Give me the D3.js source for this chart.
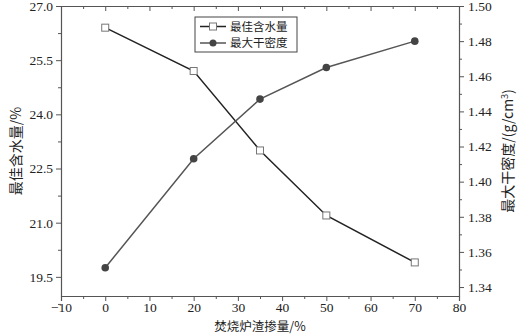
<!DOCTYPE html>
<html>
<head>
<meta charset="utf-8">
<script src="https://cdn.jsdelivr.net/npm/d3@7"></script>
<style>
  body { margin: 0; background: #fff; }
  text { font-family: "Liberation Serif", "DejaVu Serif", serif; }
  .cjk { font-family: "Noto Sans CJK SC", sans-serif; }
</style>
</head>
<body>
<script>
var width = 520;
var height = 335;

var dosage = [0, 20, 35, 50, 70];
var moisture = [26.4, 25.2, 23.0, 21.2, 19.9];
var density = [1.351, 1.413, 1.447, 1.465, 1.480];
var xTicks = [-10, 0, 10, 20, 30, 40, 50, 60, 70, 80];
var leftTicks = [19.5, 21.0, 22.5, 24.0, 25.5, 27.0];
var rightTicks = [1.34, 1.36, 1.38, 1.40, 1.42, 1.44, 1.46, 1.48, 1.50];
var seriesNames = ["最佳含水量", "最大干密度"];

var plotL = 61, plotR = 459, plotT = 6, plotB = 296;
var axisColor = "#555";

var svg = d3.select("body").append("svg")
  .attr("width", width)
  .attr("height", height);

var x = d3.scaleLinear().domain([-10, 80]).range([plotL, plotR]);
var yL = d3.scaleLinear().domain([18.97, 27]).range([plotB, plotT]);
var yR = d3.scaleLinear().domain([1.3349, 1.50]).range([plotB, plotT]);

function styleAxis(g) {
  g.selectAll("path.domain").attr("stroke", axisColor).attr("stroke-width", 1.2);
  g.selectAll("line").attr("stroke", axisColor).attr("stroke-width", 1);
  g.selectAll("text").attr("fill", "#222").style("font-size", "13.5px");
}

// minor ticks
var xMinor = d3.range(-5, 80, 10);
var lMinor = leftTicks.map(function (d) { return d - 0.75; });
var rMinor = d3.range(1.35, 1.50, 0.02);

// bottom axis
svg.append("g")
  .attr("transform", "translate(0," + plotB + ")")
  .call(d3.axisBottom(x).tickValues(xTicks).tickSize(5).tickPadding(1)
    .tickFormat(function (d) { return d < 0 ? "\u2212" + Math.abs(d) : d; }))
  .call(styleAxis);
svg.append("g")
  .attr("transform", "translate(0," + plotB + ")")
  .call(d3.axisBottom(x).tickValues(xMinor).tickSize(3).tickFormat(""))
  .call(styleAxis)
  .select("path.domain").remove();

// top axis (ticks inward)
svg.append("g")
  .attr("transform", "translate(0," + plotT + ")")
  .call(d3.axisBottom(x).tickValues(xTicks).tickSize(5).tickFormat("").tickSizeOuter(0))
  .call(styleAxis);
svg.append("g")
  .attr("transform", "translate(0," + plotT + ")")
  .call(d3.axisBottom(x).tickValues(xMinor).tickSize(3).tickFormat(""))
  .call(styleAxis)
  .select("path.domain").remove();

// left axis
svg.append("g")
  .attr("transform", "translate(" + plotL + ",0)")
  .call(d3.axisLeft(yL).tickValues(leftTicks).tickSize(5).tickPadding(3)
    .tickFormat(d3.format(".1f")).tickSizeOuter(0))
  .call(styleAxis);
svg.append("g")
  .attr("transform", "translate(" + plotL + ",0)")
  .call(d3.axisLeft(yL).tickValues(lMinor).tickSize(3).tickFormat(""))
  .call(styleAxis)
  .select("path.domain").remove();

// right axis
svg.append("g")
  .attr("transform", "translate(" + plotR + ",0)")
  .call(d3.axisRight(yR).tickValues(rightTicks).tickSize(5).tickPadding(4)
    .tickFormat(d3.format(".2f")).tickSizeOuter(0))
  .call(styleAxis);
svg.append("g")
  .attr("transform", "translate(" + plotR + ",0)")
  .call(d3.axisRight(yR).tickValues(rMinor).tickSize(3).tickFormat(""))
  .call(styleAxis)
  .select("path.domain").remove();

// moisture series
var mData = dosage.map(function (d, i) { return [d, moisture[i]]; });
svg.append("path")
  .datum(mData)
  .attr("fill", "none")
  .attr("stroke", "#222")
  .attr("stroke-width", 1.5)
  .attr("d", d3.line().x(function (d) { return x(d[0]); }).y(function (d) { return yL(d[1]); }));
svg.selectAll("rect.msq")
  .data(mData)
  .enter()
  .append("rect")
  .classed("msq", true)
  .attr("x", function (d) { return x(d[0]) - 3.5; })
  .attr("y", function (d) { return yL(d[1]) - 3.5; })
  .attr("width", 7)
  .attr("height", 7)
  .attr("fill", "#fff")
  .attr("stroke", "#777")
  .attr("stroke-width", 1);

// density series
var dData = dosage.map(function (d, i) { return [d, density[i]]; });
svg.append("path")
  .datum(dData)
  .attr("fill", "none")
  .attr("stroke", "#555")
  .attr("stroke-width", 1.5)
  .attr("d", d3.line().x(function (d) { return x(d[0]); }).y(function (d) { return yR(d[1]); }));
svg.selectAll("circle.dpt")
  .data(dData)
  .enter()
  .append("circle")
  .classed("dpt", true)
  .attr("cx", function (d) { return x(d[0]); })
  .attr("cy", function (d) { return yR(d[1]); })
  .attr("r", 3.8)
  .attr("fill", "#444");

// legend
var lg = svg.append("g").attr("transform", "translate(195,17)");
lg.append("rect")
  .attr("width", 102)
  .attr("height", 35)
  .attr("fill", "#fff")
  .attr("stroke", "#444")
  .attr("stroke-width", 1);
seriesNames.forEach(function (name, i) {
  var yy = 9.5 + i * 16.5;
  lg.append("line")
    .attr("x1", 5).attr("x2", 31).attr("y1", yy).attr("y2", yy)
    .attr("stroke", i == 0 ? "#222" : "#555").attr("stroke-width", 1.5);
  if (i == 0) {
    lg.append("rect").attr("x", 14.5).attr("y", yy - 3.5).attr("width", 7).attr("height", 7)
      .attr("fill", "#fff").attr("stroke", "#777");
  } else {
    lg.append("circle").attr("cx", 18).attr("cy", yy).attr("r", 3.5).attr("fill", "#444");
  }
  lg.append("text")
    .attr("class", "cjk")
    .attr("x", 35).attr("y", yy + 4.2)
    .style("font-size", "11.5px")
    .attr("fill", "#222")
    .text(name);
});

// axis titles
svg.append("text")
  .attr("class", "cjk")
  .attr("transform", "translate(21,151) rotate(-90)")
  .attr("text-anchor", "middle")
  .style("font-size", "14px")
  .attr("fill", "#222")
  .text("最佳含水量/%");

var rt = svg.append("text")
  .attr("class", "cjk")
  .attr("transform", "translate(513,151) rotate(-90)")
  .attr("text-anchor", "middle")
  .style("font-size", "14px")
  .attr("fill", "#222");
rt.append("tspan").text("最大干密度/(g/cm");
rt.append("tspan").attr("dy", -5).style("font-size", "9px").text("3");
rt.append("tspan").attr("dy", 5).text(")");

svg.append("text")
  .attr("class", "cjk")
  .attr("x", 260).attr("y", 331)
  .attr("text-anchor", "middle")
  .style("font-size", "12.5px")
  .attr("fill", "#222")
  .text("焚烧炉渣掺量/%");
</script>
</body>
</html>
